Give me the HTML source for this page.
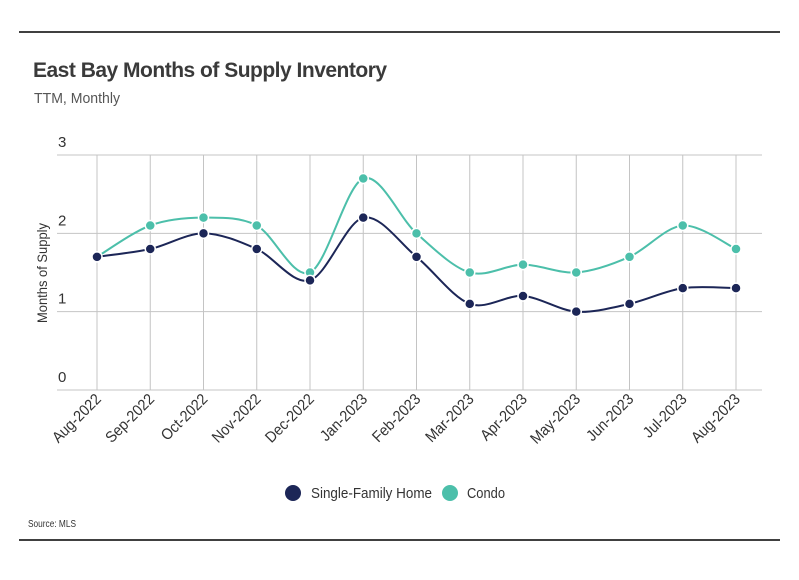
<!DOCTYPE html>
<html><head><meta charset="utf-8">
<style>
body{margin:0;background:#fff;width:799px;height:575px;overflow:hidden}
svg text{font-family:"Liberation Sans",sans-serif}
</style></head>
<body>
<svg id="chart" width="799" height="575">
<line x1="19" y1="32" x2="780" y2="32" stroke="#000" stroke-width="1.5"/>
<text x="33" y="77" font-weight="bold" font-size="21" fill="#3a3a3a" style="letter-spacing:-0.5px">East Bay Months of Supply Inventory</text>
<text x="34" y="103" font-size="15" fill="#555" textLength="86" lengthAdjust="spacingAndGlyphs">TTM, Monthly</text>
<g id="grid"></g>
<g id="series"></g>
<text transform="translate(47,273) rotate(-90)" text-anchor="middle" font-size="14" fill="#333" textLength="100" lengthAdjust="spacingAndGlyphs">Months of Supply</text>
<g>
<circle cx="293" cy="493" r="8" fill="#1c2657"/>
<text x="311" y="498" font-size="15" fill="#333" textLength="121" lengthAdjust="spacingAndGlyphs">Single-Family Home</text>
<circle cx="450" cy="493" r="8" fill="#4cbfaa"/>
<text x="467" y="498" font-size="15" fill="#333" textLength="38" lengthAdjust="spacingAndGlyphs">Condo</text>
</g>
<text x="28" y="527" font-size="10" fill="#333" textLength="48" lengthAdjust="spacingAndGlyphs">Source:  MLS</text>
<line x1="19" y1="540" x2="780" y2="540" stroke="#000" stroke-width="1.5"/>
</svg>
<script>
const categories=["Aug-2022","Sep-2022","Oct-2022","Nov-2022","Dec-2022","Jan-2023","Feb-2023","Mar-2023","Apr-2023","May-2023","Jun-2023","Jul-2023","Aug-2023"];
const singleFamily=[1.7,1.8,2.0,1.8,1.4,2.2,1.7,1.1,1.2,1.0,1.1,1.3,1.3];
const condo=[1.7,2.1,2.2,2.1,1.5,2.7,2.0,1.5,1.6,1.5,1.7,2.1,1.8];
const yTicks=[0,1,2,3];
const NS="http://www.w3.org/2000/svg";
const x0=97,x1=736,yTop=155,yBot=390,yMax=3;
function xs(i){return x0+(x1-x0)*i/(categories.length-1);}
function ys(v){return yBot-(yBot-yTop)*v/yMax;}
function mk(t,a,p){const e=document.createElementNS(NS,t);for(const k in a)e.setAttribute(k,a[k]);p.appendChild(e);return e;}
const grid=document.getElementById('grid');
yTicks.forEach(v=>{
  const l=mk('line',{x1:57,x2:762,y1:ys(v),y2:ys(v),stroke:'#c4c4c4','stroke-width':1},grid);
  
  
  const t=mk('text',{x:58,y:ys(v)-8,'font-size':15,fill:'#333'},grid);t.textContent=v;
  
  
});
categories.forEach((c,i)=>{
  const l=mk('line',{x1:xs(i),x2:xs(i),y1:yTop,y2:yBot,stroke:'#c4c4c4','stroke-width':1},grid);
  
  
  const t=mk('text',{transform:`translate(${xs(i)+5},${yBot+10}) rotate(-45) scale(0.92,1)`,'text-anchor':'end','font-size':15.5,fill:'#333'},grid);
  t.textContent=c;
  
  
});
function path(vals){
  const p=vals.map((v,i)=>[xs(i),ys(v)]);
  let d=`M${p[0][0]},${p[0][1]}`;
  for(let i=0;i<p.length-1;i++){
    const a=p[i-1]||p[i],b=p[i],c=p[i+1],e=p[i+2]||c;
    const t=0.16;
    d+=` C${b[0]+(c[0]-a[0])*t},${b[1]+(c[1]-a[1])*t} ${c[0]-(e[0]-b[0])*t},${c[1]-(e[1]-b[1])*t} ${c[0]},${c[1]}`;
  }
  return d;
}
const sg=document.getElementById('series');
[[condo,'#4cbfaa','condo'],[singleFamily,'#1c2657','single-family']].forEach(([vals,col,name])=>{
  const pa=mk('path',{d:path(vals),fill:'none',stroke:col,'stroke-width':2},sg);
  
  
  vals.forEach((v,i)=>{
    const c=mk('circle',{cx:xs(i),cy:ys(v),r:5,fill:col,stroke:'#fff','stroke-width':1.5},sg);
    
    
  });
});
</script>
</body></html>
